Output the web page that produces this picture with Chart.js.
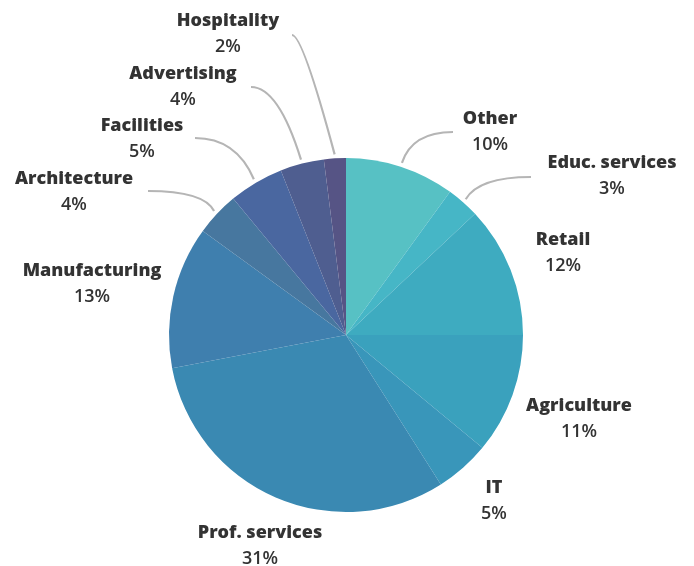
<!DOCTYPE html>
<html>
<head>
<meta charset="utf-8">
<script src="https://cdn.jsdelivr.net/npm/chart.js@4"></script>
<style>
  html, body { margin: 0; padding: 0; background: #fff; }
  #wrap { width: 694px; height: 566px; }
</style>
</head>
<body>
<div id="wrap"><canvas id="grafico" width="694" height="566"></canvas></div>
<script>
const sectores = ['Other', 'Educ. services', 'Retail', 'Agriculture', 'IT', 'Prof. services',
    'Manufacturing', 'Architecture', 'Facilities', 'Advertising', 'Hospitality'];
const porcentajes = [10, 3, 12, 11, 5, 31, 13, 4, 5, 4, 2];
const colores = ['#57c1c4', '#46b6c6', '#3eabc0', '#3aa1bd', '#3996ba', '#3a89b2',
    '#3f7fae', '#47779f', '#4a67a0', '#4f5e90', '#565485'];

// posicion del texto (centro de la primera linea) y inicio de la linea guia
const etiquetas = [
    { x: 490, y: 119, guia: [453, 132], k: 0.8 },
    { x: 612, y: 163, guia: [531, 177], k: 0.8 },
    { x: 563, y: 240, guia: null },
    { x: 579, y: 406, guia: null },
    { x: 494, y: 488, guia: null },
    { x: 260, y: 533, guia: null },
    { x: 92, y: 271, guia: null },
    { x: 74, y: 179, guia: [148, 191], k: 0.85 },
    { x: 142, y: 126, guia: [195, 138], k: 0.7 },
    { x: 183, y: 74, guia: [251, 87], k: 0.55 },
    { x: 228, y: 21, guia: [292, 35], k: 0.25 }
];

const etiquetasPlugin = {
    id: 'etiquetas',
    afterDatasetsDraw(chart) {
        const ctx = chart.ctx;
        const meta = chart.getDatasetMeta(0);
        ctx.save();
        meta.data.forEach((arc, i) => {
            const e = etiquetas[i];
            const p = arc.getProps(['x', 'y', 'startAngle', 'endAngle', 'outerRadius'], true);
            if (e.guia) {
                const a = (p.startAngle + p.endAngle) / 2;
                const r = p.outerRadius + 4;
                const ex = p.x + Math.cos(a) * r;
                const ey = p.y + Math.sin(a) * r;
                const sx = e.guia[0], sy = e.guia[1];
                const cx = sx + (ex - sx) * e.k;
                const cy = sy;
                ctx.beginPath();
                ctx.moveTo(sx, sy);
                ctx.quadraticCurveTo(cx, cy, ex, ey);
                ctx.strokeStyle = '#b5b5b5';
                ctx.lineWidth = 2.2;
                ctx.stroke();
            }
            ctx.fillStyle = '#333333';
            ctx.textAlign = 'center';
            ctx.textBaseline = 'middle';
            ctx.font = '800 18px "Open Sans"';
            ctx.fillText(sectores[i], e.x, e.y);
            ctx.font = '600 18px "Open Sans"';
            ctx.fillText(porcentajes[i] + '%', e.x, e.y + 26);
        });
        ctx.restore();
    }
};

const ctx = document.getElementById('grafico').getContext('2d');
new Chart(ctx, {
    type: 'pie',
    data: {
        labels: sectores,
        datasets: [{
            data: porcentajes,
            backgroundColor: colores,
            borderWidth: 0
        }]
    },
    options: {
        responsive: false,
        maintainAspectRatio: false,
        animation: false,
        layout: {
            padding: { left: 169, right: 171, top: 158, bottom: 54 }
        },
        plugins: {
            legend: { display: false },
            tooltip: { enabled: false }
        }
    },
    plugins: [etiquetasPlugin]
});
</script>
</body>
</html>
